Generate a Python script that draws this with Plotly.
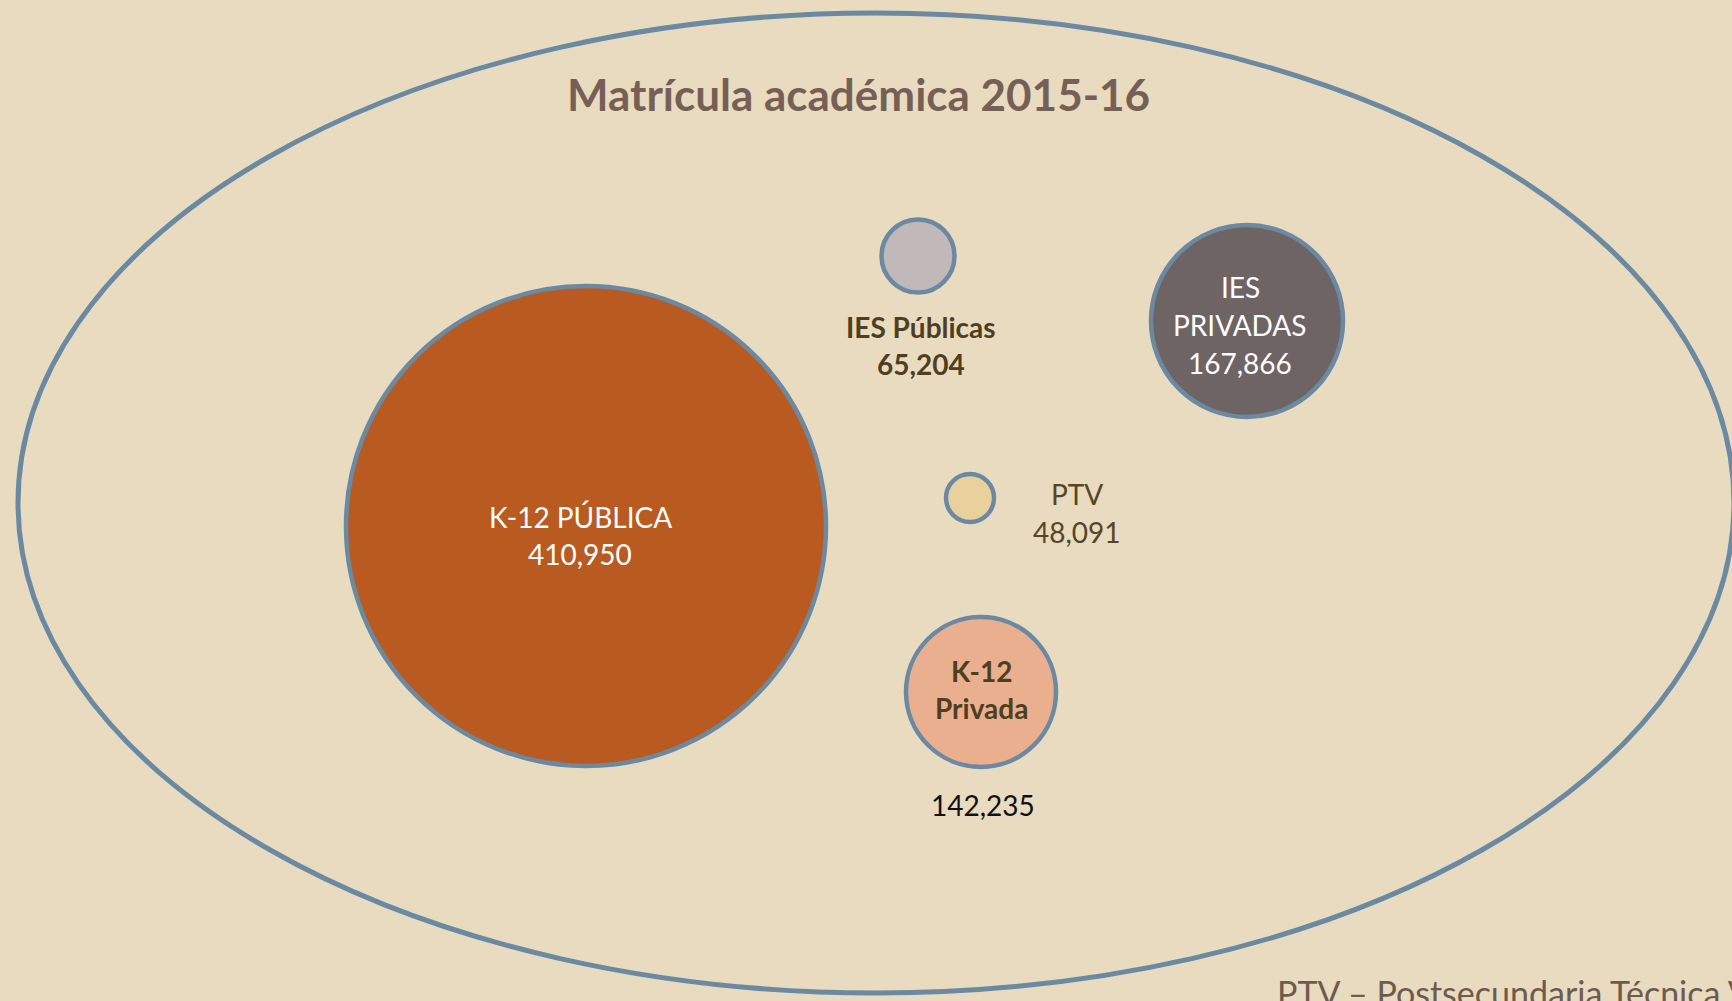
import plotly.graph_objects as go

# ---------------- data ----------------
categories = ["K-12 PÚBLICA", "IES Públicas", "IES PRIVADAS", "PTV", "K-12 Privada"]
values = [410950, 65204, 167866, 48091, 142235]
title_text = "Matrícula académica 2015-16"
footnote_text = "PTV – Postsecundaria Técnica Vocacional"

# ---------------- layout / style (not data) ----------------
W, H = 1732, 1001
FONT = "Lato, 'Open Sans', sans-serif"
BG = "#E8DBC0"
OUTLINE = "#6B89A1"

bubble_x = [586, 918, 1247, 970, 981]
bubble_y = [526, 256, 321, 498, 692]
bubble_size = [480, 73, 192, 48, 150]
bubble_fill = ["#B95A21", "#C1B9B9", "#6E6464", "#E8D19C", "#EAAF8F"]

label_lines = [[categories[0]], [categories[1]], categories[2].split(" "), [categories[3]], categories[4].split(" ")]
label_pos = [  # (x, y of first line, line pitch)
    (580, 517, 37),
    (921, 327, 37),
    (1240, 287, 38),
    (1077, 494, 38),
    (981, 671, 37),
]
value_pos = [(580, 554), (921, 364), (1240, 363), (1077, 532), (983, 805)]
label_style = [
    dict(color="white", bold=False, size=28),
    dict(color="#4F3E20", bold=True, size=28),
    dict(color="white", bold=False, size=28),
    dict(color="#574525", bold=False, size=28),
    dict(color="#4F3E20", bold=True, size=28),
]
value_style = [
    dict(color="white", bold=False, size=28),
    dict(color="#4F3E20", bold=True, size=28),
    dict(color="white", bold=False, size=28),
    dict(color="#574525", bold=False, size=28),
    dict(color="#111111", bold=False, size=28),
]

fig = go.Figure()

fig.add_trace(go.Scatter(
    x=bubble_x, y=bubble_y, mode="markers",
    marker=dict(size=bubble_size, color=bubble_fill, opacity=1,
                line=dict(color=OUTLINE, width=4.5)),
    text=[f"{c}: {v:,}" for c, v in zip(categories, values)],
    hoverinfo="text", showlegend=False,
))

annotations = []


def add_text(txt, x, y, style, xanchor="center"):
    t = f"<b>{txt}</b>" if style["bold"] else txt
    annotations.append(dict(
        x=x, y=y, xref="x", yref="y", text=t, showarrow=False,
        xanchor=xanchor, yanchor="middle",
        font=dict(family=FONT, size=style["size"], color=style["color"]),
    ))


for i, cat in enumerate(categories):
    lx, ly, pitch = label_pos[i]
    for j, line in enumerate(label_lines[i]):
        add_text(line, lx, ly + j * pitch, label_style[i])
    vx, vy = value_pos[i]
    add_text(f"{values[i]:,}", vx, vy, value_style[i])

# title
add_text(title_text, 858, 94, dict(color="#765F55", bold=True, size=44))
# footnote (cut off at bottom-right like the reference)
annotations.append(dict(
    x=1275, y=970, xref="x", yref="y", text=footnote_text, showarrow=False,
    xanchor="left", yanchor="top",
    font=dict(family=FONT, size=34, color="#6E5A4E"),
))

fig.update_layout(
    width=W, height=H,
    margin=dict(l=0, r=0, t=0, b=0),
    paper_bgcolor=BG, plot_bgcolor=BG,
    xaxis=dict(range=[0, W], visible=False, fixedrange=True),
    yaxis=dict(range=[H, 0], visible=False, fixedrange=True),
    shapes=[dict(type="circle", xref="x", yref="y",
                 x0=18, x1=1734, y0=13, y1=993,
                 line=dict(color=OUTLINE, width=5), layer="below")],
    annotations=annotations,
)

fig.write_html(
    "out.html",
    config={"displayModeBar": False},
    post_script="document.body.style.margin='0';document.body.style.overflow='hidden';document.body.style.background='" + BG + "';",
)
